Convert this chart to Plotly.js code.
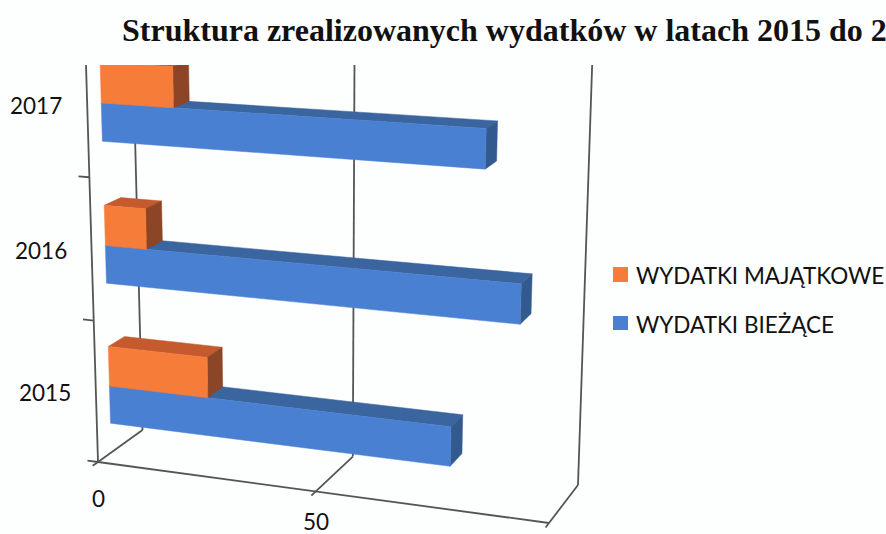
<!DOCTYPE html>
<html><head><meta charset="utf-8">
<script src="https://cdn.plot.ly/plotly-3.0.1.min.js"></script>
<style>html,body{margin:0;padding:0;background:#fdfefe;overflow:hidden}</style>
</head><body><div id="chart" style="width:886px;height:534px"></div>
<script>
const years = ['2015','2016','2017'];
const wydatkiBiezace = [77, 91, 83];
const wydatkiMajatkowe = [23, 9.5, 16.3];
const gridTicks = [0, 50, 100];
const tickLabels = ['0', '50'];
const titleText = 'Struktura zrealizowanych wydatków w latach 2015 do 2';
const seriesNames = ['WYDATKI MAJĄTKOWE', 'WYDATKI BIEŻĄCE'];
const blueShades = {front:'#4a80d2', top:'#3a659f', side:'#335a8e'};
const orangeShades = {front:'#f67c3a', top:'#c45a2e', side:'#8c4526'};

// 3D view of the chart box: where its eight corners fall on the page
const view = {
  fl0:[98,462], fl1:[85,32], bl0:[142.5,430], bl1:[132,18],
  fr0:[549,523], fr1:[565,58], br0:[578,485], br1:[593,40]
};
const labelDrop = {'0':36,'50':30};
const mix=(a,b,t)=>[a[0]+(b[0]-a[0])*t,a[1]+(b[1]-a[1])*t];
function project(v,d,z){
  const u=v/100, s=0.934*u/(1+(0.934-1)*u), w=z/3, h=w-0.02*w*(1-w);
  const left=mix(mix(view.fl0,view.fl1,h),mix(view.bl0,view.bl1,h),d);
  const right=mix(mix(view.fr0,view.fr1,h),mix(view.br0,view.br1,h),d);
  return mix(left,right,s);
}
function faces(values,z0,z1,kind){
  const d0=0.3,d1=0.66,X=[],Y=[];
  values.forEach((v,n)=>{
    const lo=n+z0,hi=n+z1;
    const poly = kind==='front'?[[0,d0,lo],[v,d0,lo],[v,d0,hi],[0,d0,hi]]
      : kind==='top'?[[0,d0,hi],[v,d0,hi],[v,d1,hi],[0,d1,hi]]
      : [[v,d0,lo],[v,d1,lo],[v,d1,hi],[v,d0,hi]];
    poly.concat([poly[0]]).forEach(p=>{const q=project(p[0],p[1],p[2]);X.push(q[0]);Y.push(q[1]);});
    X.push(null);Y.push(null);
  });
  return {x:X,y:Y};
}
function bar(values,z0,z1,shades,name){
  return ['top','side','front'].map(kind=>Object.assign(faces(values,z0,z1,kind),
    {type:'scatter',mode:'lines',fill:'toself',fillcolor:shades[kind],name,
     line:{color:shades[kind],width:0.5},hoverinfo:'skip',showlegend:false}));
}
function line(a,b){
  const p=project(a[0],a[1],a[2]),q=project(b[0],b[1],b[2]);
  return {type:'scatter',mode:'lines',x:[p[0],q[0]],y:[p[1],q[1]],line:{color:'#555',width:1.8},hoverinfo:'skip',showlegend:false};
}
const traces=[line([0,0,0],[100,0,0]),line([0,0,0],[0,0,3])];
gridTicks.forEach(t=>{
  traces.push(line([t,0,0],[t,1,0]),line([t,1,0],[t,1,3]),line([t,0,0],[t,-0.12,0]));
});
[0,1,2].forEach(n=>traces.push(line([-2.5,0,n],[0,0,n])));
traces.push(...bar(wydatkiBiezace,0.21,0.477,blueShades,seriesNames[1]));
traces.push(...bar(wydatkiMajatkowe,0.477,0.76,orangeShades,seriesNames[0]));

const annFont={family:'Lato, "Open Sans", sans-serif',size:22.5,color:'#111'};
const anns=[];
years.forEach((yr,n)=>{const p=project(0,0,n+0.5);
  anns.push({xref:'x',yref:'y',x:p[0],y:p[1],text:yr,showarrow:false,xanchor:'right',xshift:-23,yshift:-1,font:annFont});});
tickLabels.forEach(t=>{const p=project(Number(t),0,0);
  anns.push({xref:'x',yref:'y',x:p[0],y:p[1],text:t,showarrow:false,yshift:-labelDrop[t],font:annFont});});
seriesNames.forEach((s,n)=>anns.push({xref:'x',yref:'y',x:634,y:275+n*49,xanchor:'left',yanchor:'middle',showarrow:false,text:s,font:annFont}));

const layout={
  width:886,height:534,margin:{l:0,r:0,t:65,b:0},
  paper_bgcolor:'#fdfefe',plot_bgcolor:'#fdfefe',showlegend:false,
  title:{text:titleText,x:122/886,xanchor:'left',y:1-30/534,yanchor:'middle',
    font:{family:'"Liberation Serif", serif',size:32,color:'#111',weight:700}},
  xaxis:{visible:false,range:[0,886],fixedrange:true},
  yaxis:{visible:false,range:[534,65],fixedrange:true},
  shapes:[
    {type:'rect',xref:'x',yref:'y',x0:613,x1:628,y0:267,y1:282,fillcolor:orangeShades.front,line:{width:0}},
    {type:'rect',xref:'x',yref:'y',x0:613,x1:628,y0:316,y1:330,fillcolor:blueShades.front,line:{width:0}}
  ],
  annotations:anns
};
Plotly.newPlot('chart',traces,layout,{displayModeBar:false,staticPlot:true});
</script></body></html>
